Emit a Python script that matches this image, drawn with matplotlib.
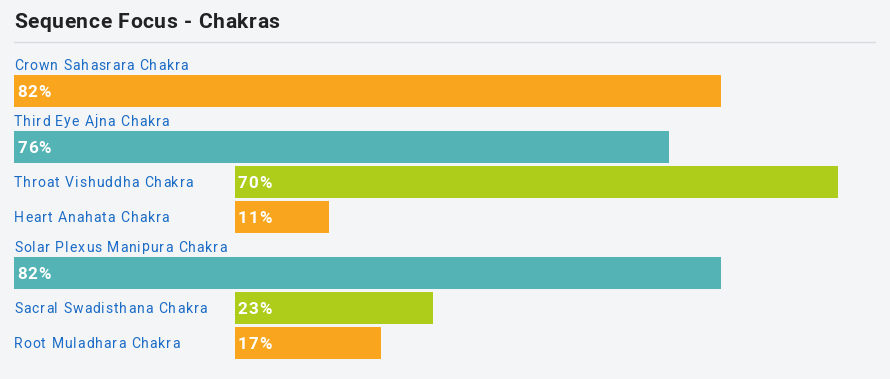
import matplotlib.pyplot as plt
from matplotlib import font_manager
from matplotlib.font_manager import FontProperties
from matplotlib.ft2font import FT2Font
from matplotlib.transforms import offset_copy

# chakra data (top to bottom)
labels = [
    "Crown Sahasrara Chakra",
    "Third Eye Ajna Chakra",
    "Throat Vishuddha Chakra",
    "Heart Anahata Chakra",
    "Solar Plexus Manipura Chakra",
    "Sacral Swadisthana Chakra",
    "Root Muladhara Chakra",
]
values = [82, 76, 70, 11, 82, 23, 17]
colors = ["#F9A61E", "#53B3B5", "#AECD1A", "#F9A61E", "#53B3B5", "#AECD1A", "#F9A61E"]

W, H = 890, 379
BG = "#F4F5F7"
LABEL_COLOR = "#1C6CC6"

plt.rcParams['font.family'] = ['Roboto', 'DejaVu Sans']

fig = plt.figure(figsize=(W / 100, H / 100), dpi=100)
fig.patch.set_facecolor(BG)

# axes spans x 14..876 px, full height; y in pixel rows
ax = fig.add_axes([14 / W, 0, 862 / W, 1])
ax.set_facecolor(BG)
ax.set_xlim(0, 100)
ax.set_ylim(H, 0)
ax.axis('off')


def spaced_text(x, y, s, px, weight, color, track, transform):
    # draw text char by char with extra letter spacing (px)
    prop = FontProperties(family='Roboto', weight=weight)
    font = FT2Font(font_manager.findfont(prop))
    font.set_size(px * 0.72, 100)
    off = 0.0
    for ch in s:
        if ch != ' ':
            tr = offset_copy(transform, fig=fig, x=off, y=0, units='dots')
            fig.text(x, y, ch, fontsize=px * 0.72, fontweight=weight, color=color,
                     va='baseline', ha='left', transform=tr)
        off += font.load_char(ord(ch)).linearHoriAdvance / 65536 + track


spaced_text(14 / W, 1 - 28 / H, "Sequence Focus - Chakras", 21, 'bold',
            "#222222", 0.6, fig.transFigure)
ax.axhline(42, color="#D9DADD", lw=1)

inline_off = 25.6    # bar start for rows with label on the left
bar_h = 32
gap = 3
label_h = 21
pad = 0.35
lab_px, pct_px = 14, 17

y = 54
for lab, v, c in zip(labels, values, colors):
    if inline_off + v <= 100:
        left = inline_off
        yc = y + bar_h / 2
        spaced_text(0, yc + 5, lab, lab_px, 'normal', LABEL_COLOR, 0.95, ax.transData)
    else:
        left = 0
        spaced_text(0, y + label_h / 2 + 5, lab, lab_px, 'normal', LABEL_COLOR, 0.95,
                    ax.transData)
        y += label_h
        yc = y + bar_h / 2
    ax.barh(yc, v, left=left, height=bar_h, color=c)
    spaced_text(left + pad, yc + 6, f"{v}%", pct_px, 'bold', 'white', 1.0, ax.transData)
    y += bar_h + gap

fig.savefig("out.png", dpi=100, facecolor=BG)
